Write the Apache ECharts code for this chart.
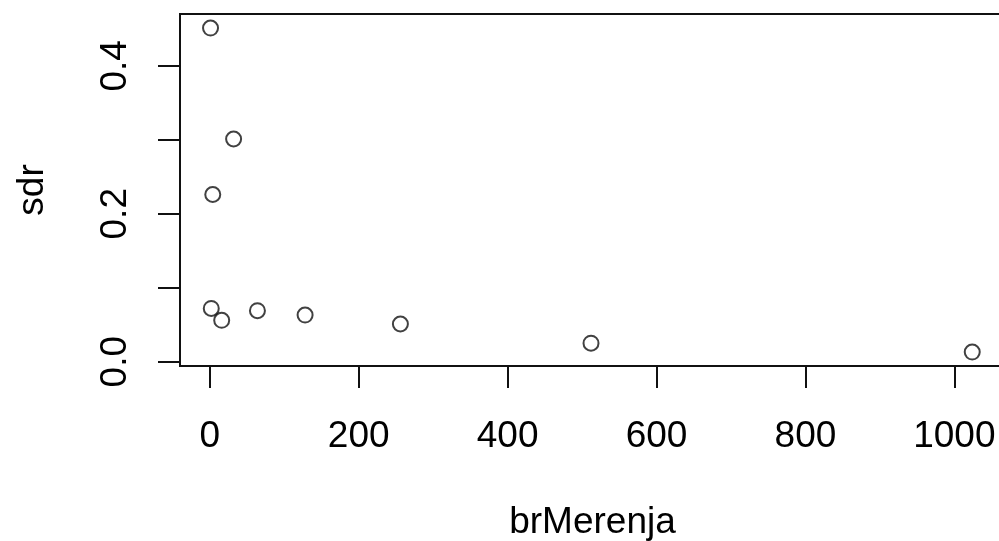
<!DOCTYPE html>
<html>
<head>
<meta charset="utf-8">
<script src="https://cdn.jsdelivr.net/npm/echarts@6/dist/echarts.min.js"></script>
<style>
  html, body { margin: 0; padding: 0; background: #fff; }
</style>
</head>
<body>
<!-- chart container, same size as the window -->
<div id="main" style="width: 999px; height: 541px"></div>
<script>
// brMerenja / sdr values
var brMerenja = [1, 2, 4, 16, 32, 64, 128, 256, 512, 1024];
var sdr = [0.451, 0.072, 0.226, 0.056, 0.301, 0.069, 0.063, 0.051, 0.025, 0.013];
var xTicks = [0, 200, 400, 600, 800, 1000];
var yTicks = [0, 0.1, 0.2, 0.3, 0.4];
var yLabels = [0, 0.2, 0.4];

var points = [];
for (var i = 0; i < brMerenja.length; i++) {
  points.push([brMerenja[i], sdr[i]]);
}

var font = "Liberation Sans, Arial, sans-serif";
var ink = "#111";

var chart = echarts.init(document.getElementById("main"));
chart.setOption({
  animation: false,
  backgroundColor: "#ffffff",
  grid: {
    left: 180,
    top: 14,
    width: 825,
    height: 352,
    outerBoundsMode: "none",
    containLabel: false,
    show: true,
    borderColor: ink,
    borderWidth: 2,
    backgroundColor: "transparent",
  },
  xAxis: {
    type: "value",
    min: -40,
    max: 1068,
    name: "brMerenja",
    nameLocation: "middle",
    nameGap: 138,
    nameTextStyle: { fontFamily: font, fontSize: 37, color: "#000" },
    axisLine: { show: true, onZero: false, lineStyle: { color: ink, width: 2 } },
    axisTick: {
      show: true,
      length: 22,
      customValues: xTicks,
      lineStyle: { color: ink, width: 2 },
    },
    axisLabel: {
      customValues: xTicks,
      margin: 52,
      fontFamily: font,
      fontSize: 37,
      color: "#000",
      formatter: function (v) {
        return String(v);
      },
    },
    splitLine: { show: false },
  },
  yAxis: {
    type: "value",
    min: -0.0058,
    max: 0.47,
    name: "sdr",
    nameLocation: "middle",
    nameGap: 129,
    nameTextStyle: { fontFamily: font, fontSize: 37, color: "#000" },
    axisLine: { show: true, onZero: false, lineStyle: { color: ink, width: 2 } },
    axisTick: {
      show: true,
      length: 22,
      customValues: yTicks,
      lineStyle: { color: ink, width: 2 },
    },
    axisLabel: {
      customValues: yLabels,
      rotate: 90,
      margin: 46,
      fontFamily: font,
      fontSize: 37,
      color: "#000",
      formatter: function (v) {
        return v.toFixed(1);
      },
    },
    splitLine: { show: false },
  },
  series: [
    {
      type: "scatter",
      data: points,
      symbol: "circle",
      symbolSize: 15,
      itemStyle: {
        color: "transparent",
        borderColor: ink,
        borderWidth: 2,
      },
    },
  ],
});
</script>
</body>
</html>
